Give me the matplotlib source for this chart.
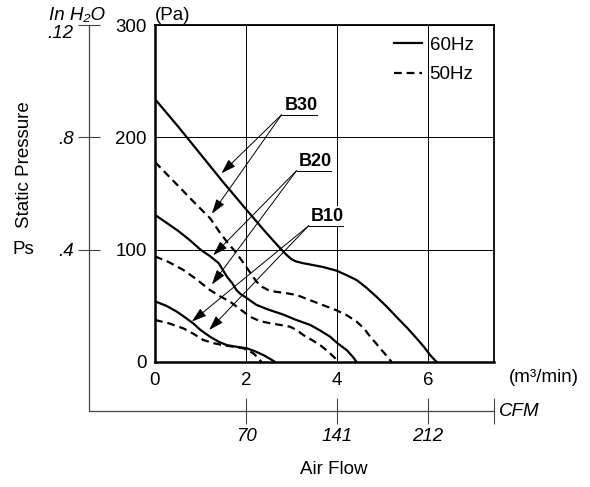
import numpy as np
import matplotlib
matplotlib.use('Agg')
import matplotlib.pyplot as plt
from matplotlib.lines import Line2D

plt.rcParams['font.family'] = ['Liberation Sans', 'DejaVu Sans']
plt.rcParams['font.size'] = 13.5

# curvas P-Q (x em m3/min, y em Pa)
b30_60_x = [0, 0.5, 1.0, 1.5, 2.0, 2.38, 2.6, 2.78, 2.9, 3.0, 3.1, 3.25, 3.41, 3.7, 3.99,
            4.2, 4.43, 4.65, 4.87, 5.1, 5.31, 5.55, 5.75, 5.9, 6.05, 6.19]
b30_60_y = [234, 210, 185, 160, 136, 118, 108, 100, 95, 91.5, 89.5, 88, 86.8, 84.5, 81.3,
            77.5, 73, 66, 58, 49, 40, 30, 21, 14, 6, 0]
b30_50_x = [0, 0.3, 0.6, 0.9, 1.21, 1.43, 1.6, 1.79, 1.92, 2.05, 2.23, 2.35, 2.49, 2.65, 2.82,
            3.11, 3.41, 3.7, 3.99, 4.22, 4.43, 4.6, 4.73, 4.85, 4.95, 5.08, 5.2]
b30_50_y = [178, 165.5, 153, 140.5, 128, 115, 106, 97, 89.5, 82, 71.5, 67, 64, 62.5, 61.7,
            59.7, 55, 50.5, 46, 41.5, 36, 29.5, 22.5, 17, 12, 6, 0]

b20_60_x = [0, 0.25, 0.5, 0.75, 1.0, 1.2, 1.4, 1.58, 1.7, 1.79, 1.88, 1.98, 2.1, 2.23, 2.5,
            2.8, 3.1, 3.41, 3.63, 3.85, 4.0, 4.21, 4.35, 4.43]
b20_60_y = [131, 124, 117, 109, 100, 94.5, 88, 76, 70, 64, 60.5, 58, 54.5, 50.8, 46.5,
            42.5, 37.5, 33, 28, 22.5, 17, 10.7, 4.5, 0]
b20_50_x = [0, 0.3, 0.62, 0.9, 1.21, 1.43, 1.65, 1.87, 2.09, 2.3, 2.53, 2.75, 2.97, 3.11,
            3.26, 3.45, 3.63, 3.8, 3.96, 4.02]
b20_50_y = [94, 89, 82, 74, 64, 58.5, 53.7, 47, 40.3, 36.5, 34.5, 33, 31.4, 28.5,
            24, 19.5, 15, 9.5, 3.3, 0]

b10_60_x = [0, 0.25, 0.48, 0.65, 0.84, 1.0, 1.21, 1.4, 1.58, 1.8, 2.02, 2.2, 2.38, 2.52, 2.64]
b10_60_y = [54, 50, 44.8, 40, 34.4, 28.5, 22.5, 18, 15, 13.5, 12.2, 9.5, 6.2, 3, 0]
b10_50_x = [0, 0.3, 0.62, 0.85, 1.06, 1.28, 1.5, 1.72, 1.94, 2.05, 2.16, 2.26, 2.34]
b10_50_y = [37.4, 34.5, 30, 25, 19.6, 16.8, 15, 13.6, 12.2, 10.2, 7.7, 4, 0]

models = ['B30', 'B20', 'B10']
pa_ticks = [0, 100, 200, 300]
inh2o_labels = ['.12', '.8', '.4']
flow_ticks = [0, 2, 4, 6]
cfm_labels = ['70', '141', '212', '']

fig = plt.figure(figsize=(5.9, 4.87), dpi=100)
W, H = 590, 487
ax = fig.add_axes([155 / W, 125 / H, 339 / W, 337 / H])

lw = 1.6
dash = (3.5, 2.2)
ax.plot(b30_60_x, b30_60_y, color='black', lw=lw, label='60Hz', zorder=3)
ax.plot(b30_50_x, b30_50_y, color='black', lw=lw, dashes=dash, label='50Hz', zorder=3)
ax.plot(b20_60_x, b20_60_y, color='black', lw=lw, zorder=3)
ax.plot(b20_50_x, b20_50_y, color='black', lw=lw, dashes=dash, zorder=3)
ax.plot(b10_60_x, b10_60_y, color='black', lw=lw, zorder=3)
ax.plot(b10_50_x, b10_50_y, color='black', lw=lw, dashes=dash, zorder=3)

ax.set_xlim(0, 7.45)
ax.set_ylim(0, 300)
ax.set_xticks(flow_ticks)
ax.set_yticks(pa_ticks)
ax.tick_params(length=0, pad=6, labelsize=13.5)
ax.tick_params(axis='x', pad=7)
ax.grid(True, color='black', lw=0.7)
for s in ax.spines.values():
    s.set_linewidth(1.3)
ax.spines['left'].set_linewidth(1.8)
ax.spines['bottom'].set_linewidth(1.8)

# rótulos dos modelos com setas
label_pos = {'B30': (2.78, 3.56, 220), 'B20': (3.11, 3.87, 170.3), 'B10': (3.38, 4.13, 121.4)}
arrow_tips = {'B30': [(1.46, 168), (1.25, 132)],
              'B20': [(1.28, 95), (1.25, 69)],
              'B10': [(0.81, 36), (1.19, 28.5)]}
for m in models:
    x0, x1, yy = label_pos[m]
    ax.plot([x0, x1], [yy, yy], color='black', lw=0.7, zorder=4)
    ax.text((x0 + x1) / 2 + 0.04, yy + 1, m, ha='center', va='bottom', fontweight='bold',
            fontsize=13, zorder=4,
            bbox=dict(facecolor='white', edgecolor='none', pad=1.0))
    for tip in arrow_tips[m]:
        ax.annotate('', xy=tip, xytext=(x0, yy),
                    arrowprops=dict(arrowstyle='-|>,head_length=0.75,head_width=0.24',
                                    lw=0.7, color='black', shrinkA=0, shrinkB=0,
                                    mutation_scale=12), zorder=5)

ax.legend(loc='upper left', bbox_to_anchor=(0.705, 0.965), frameon=False,
          handlelength=1.5, handletextpad=0.4, labelspacing=0.65, borderpad=0,
          borderaxespad=0, fontsize=13.5)

# eixo auxiliar in H2O
xl = (89 - 155) / 339
yb = (362 - 411) / 337
sy = ax.secondary_yaxis(xl)
sy.set_yticks([300, 200, 100], labels=inh2o_labels)
sy.tick_params(direction='inout', length=16, width=0.8, color='#444', pad=3, labelsize=13.5)
for lab in sy.get_yticklabels():
    lab.set_style('italic')
sy.get_yticklabels()[0].set_verticalalignment('top')
for s in sy.spines.values():
    s.set_visible(False)

# eixo auxiliar CFM
sx = ax.secondary_xaxis(yb)
sx.set_xticks([2, 4, 6, 7.45], labels=cfm_labels)
sx.tick_params(direction='inout', length=19, width=0.8, color='#444', pad=3, labelsize=13.5)
for lab in sx.get_xticklabels():
    lab.set_style('italic')
for s in sx.spines.values():
    s.set_visible(False)

frame = Line2D([xl, xl, 0.997], [1.0, yb, yb], transform=ax.transAxes, color='#444',
               lw=0.9, clip_on=False)
ax.add_line(frame)

fig.text(77 / W, 1 - 15 / H, 'In H₂O', style='italic', ha='center', va='center', fontsize=13.5)
fig.text(155 / W, 1 - 15 / H, '(Pa)', ha='left', va='center', fontsize=13.5)
fig.text(25 / W, 1 - 165 / H, 'Static Pressure', rotation=90, ha='center', va='center', fontsize=13.5)
fig.text(23 / W, 1 - 249 / H, 'Ps', ha='center', va='center', fontsize=13.5)
fig.text(509 / W, 1 - 378 / H, '(m³/min)', ha='left', va='center', fontsize=13.5)
fig.text(499 / W, 1 - 411 / H, 'CFM', style='italic', ha='left', va='center', fontsize=13.5)
fig.text(334 / W, 1 - 470 / H, 'Air Flow', ha='center', va='center', fontsize=13.5)

fig.savefig('out.png', dpi=100)
